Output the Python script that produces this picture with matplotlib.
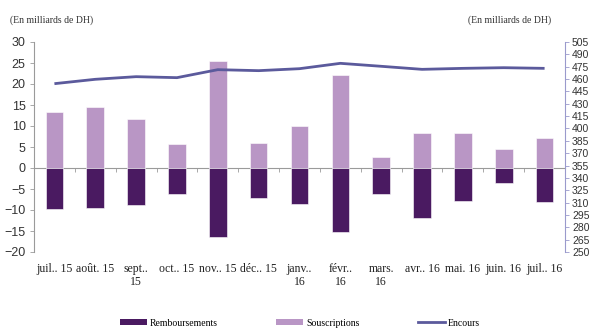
import matplotlib
matplotlib.use("Agg")
import matplotlib.pyplot as plt
from matplotlib.lines import Line2D
from matplotlib.patches import Patch
import numpy as np

# Monthly data (billions of DH)
months = ["juil.. 15", "août. 15", "sept..\n15", "oct.. 15", "nov.. 15", "déc.. 15",
          "janv..\n16", "févr..\n16", "mars.\n16", "avr.. 16", "mai. 16", "juin. 16", "juil.. 16"]
souscriptions = [13.4, 14.5, 11.6, 5.7, 25.5, 6.0, 10.1, 22.1, 2.7, 8.4, 8.4, 4.5, 7.2]
remboursements = [-9.7, -9.5, -8.7, -6.3, -16.5, -7.2, -8.5, -15.2, -6.1, -11.8, -7.9, -3.5, -8.2]
encours = [454.4, 459.7, 462.9, 461.7, 471.4, 470.2, 472.6, 479.1, 475.5, 471.8, 473.0, 473.8, 473.0]

left_ticks = list(range(-20, 31, 5))
right_ticks = list(range(250, 506, 15))

c_remb = "#4A1A61"
c_sous = "#B996C5"
c_enc = "#5B5A9C"
serif = "Liberation Serif"
sans = "Liberation Sans"

fig = plt.figure(figsize=(5.91, 3.30), dpi=100)
ax = fig.add_axes([34 / 591, 1 - 252 / 330, (565 - 34) / 591, (252 - 42) / 330])

x = np.arange(len(months))
w = 0.43
ax.bar(x, souscriptions, width=w, color=c_sous, edgecolor="white", linewidth=0.4, zorder=2)
ax.bar(x, remboursements, width=w, color=c_remb, edgecolor="white", linewidth=0.4, zorder=2)

ax.set_xlim(-0.5, len(months) - 0.5)
ax.set_ylim(-20, 30)
ax.set_yticks(left_ticks)
ax.tick_params(axis="y", direction="out", length=3, width=0.6, color="#9A9A9A",
               labelsize=9, pad=3)
for lab in ax.get_yticklabels():
    lab.set_fontfamily(sans)
    lab.set_color("#333333")

ax.set_xticks(x)
ax.set_xticklabels(months, fontfamily=serif, fontsize=8.5, color="#222222", linespacing=1.1)
ax.tick_params(axis="x", length=0, pad=8)

for s in ("top", "bottom", "right"):
    ax.spines[s].set_visible(False)
ax.spines["left"].set_color("#9A9A9A")
ax.spines["left"].set_linewidth(0.8)

# zero line with boundary ticks
zero_axis = ax.secondary_xaxis(20 / 50)
zero_axis.set_xticks(np.arange(0.5, len(months) - 0.5, 1.0))
zero_axis.tick_params(axis="x", direction="out", length=3, width=0.6, color="#9A9A9A",
                      labelbottom=False, labeltop=False)
zero_axis.spines["bottom"].set_color("#9A9A9A")
zero_axis.spines["bottom"].set_linewidth(0.8)
zero_axis.spines["top"].set_visible(False)

ax2 = ax.twinx()
ax2.plot(x, encours, color=c_enc, linewidth=2.0, solid_capstyle="butt", zorder=3)
ax2.set_ylim(250, 505)
ax2.set_yticks(right_ticks)
ax2.tick_params(axis="y", direction="out", length=3, width=0.6, color="#9A9ACC",
                labelsize=7.5, pad=2)
for lab in ax2.get_yticklabels():
    lab.set_fontfamily(sans)
    lab.set_color("#333333")
for s in ("top", "bottom", "left"):
    ax2.spines[s].set_visible(False)
ax2.spines["right"].set_color("#9A9ACC")
ax2.spines["right"].set_linewidth(0.8)

fig.text(10 / 591, 1 - 20 / 330, "(En milliards de DH)", fontfamily=serif, fontsize=7,
         color="#333333", va="center", ha="left")
fig.text(551 / 591, 1 - 20 / 330, "(En milliards de DH)", fontfamily=serif, fontsize=7,
         color="#333333", va="center", ha="right")

handles = [Patch(facecolor=c_remb, edgecolor="none"),
           Patch(facecolor=c_sous, edgecolor="none"),
           Line2D([0], [0], color=c_enc, linewidth=2.0)]
labels = ["Remboursements", "Souscriptions", "Encours"]
fig.legend(handles, labels, loc="center", bbox_to_anchor=(300 / 591, 1 - 323 / 330),
           ncol=3, frameon=False, prop={"family": serif, "size": 7},
           handlelength=2.8, handleheight=0.5, handletextpad=0.3, columnspacing=6.0)

fig.savefig("out.png", dpi=100)
